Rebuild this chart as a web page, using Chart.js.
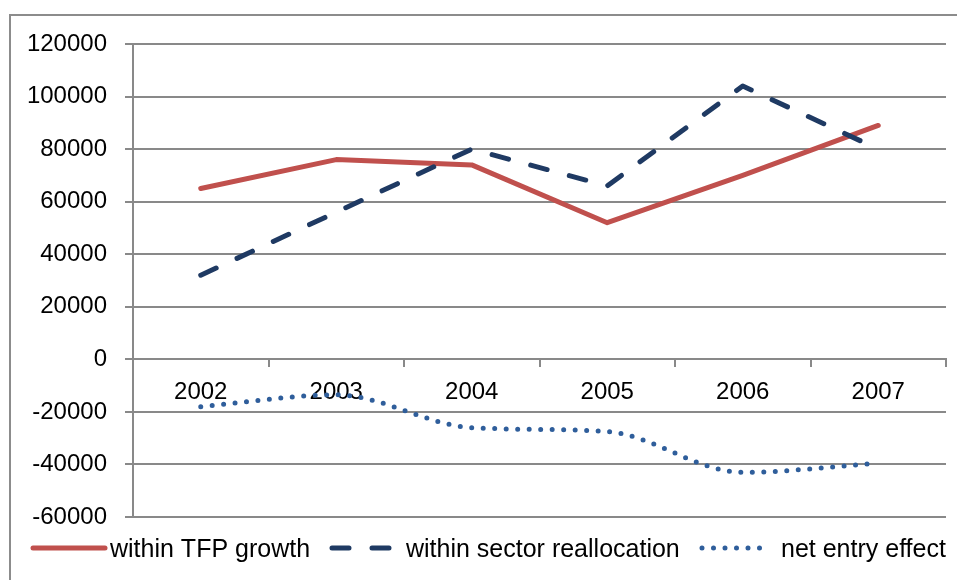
<!DOCTYPE html>
<html><head><meta charset="utf-8">
<script src="https://cdn.jsdelivr.net/npm/chart.js@4.4.1/dist/chart.umd.min.js"></script>
<style>
html,body{margin:0;padding:0;background:#fff;overflow:hidden}
#wrap{position:relative;width:957px;height:580px;overflow:hidden}
#frame{position:absolute;left:9px;top:14px;width:980px;height:620px;border-left:2px solid #8c8c8c;border-top:2px solid #8c8c8c;pointer-events:none}
canvas{position:absolute;left:0;top:0}
</style></head><body>
<div id="wrap"><canvas id="c" width="957" height="580"></canvas><div id="frame"></div></div>
<script>
// ---- data ----
const years = ['2002', '2003', '2004', '2005', '2006', '2007'];
const seriesNames = ['within TFP growth', 'within sector reallocation', 'net entry effect'];
const tfpGrowth = [65000, 76000, 74000, 52000, 70000, 89000];
const sectorRealloc = [32000, 56000, 80000, 66000, 104000, 80000];
const netEntry = [-18000, -13500, -26000, -27500, -43000, -39500];
const yMin = -60000, yMax = 120000, yStep = 20000;

const FAMILY = '"Liberation Sans", Arial, sans-serif';
const FSIZE = 24;
const LSIZE = 25;

const GRID = '#898989';
const colors = ['#C0504D', '#1F3A63', '#2F5E9B'];

const legendPlugin = {
  id: 'refLegend',
  afterDraw(chart){
    const ctx = chart.ctx;
    const ds = chart.data.datasets;
    const ly = 548;
    const items = [
      {x0: 33, x1: 105, tx: 110},
      {x0: 332, x1: 390, tx: 406},
      {x0: 702, x1: 762, tx: 781}
    ];
    ctx.save();
    items.forEach((it, i) => {
      const d = ds[i];
      ctx.beginPath();
      ctx.strokeStyle = d.borderColor;
      ctx.lineWidth = d.borderWidth;
      ctx.lineCap = 'round';
      ctx.setLineDash(d.borderDash || []);
      ctx.moveTo(it.x0, ly);
      ctx.lineTo(it.x1, ly);
      ctx.stroke();
      ctx.setLineDash([]);
      ctx.fillStyle = '#000';
      ctx.font = LSIZE + 'px ' + FAMILY;
      ctx.textBaseline = 'alphabetic';
      ctx.textAlign = 'left';
      ctx.fillText(d.label, it.tx, 557);
    });
    ctx.restore();
  }
};

new Chart(document.getElementById('c'), {
  type: 'line',
  data: {
    labels: years,
    datasets: [
      {label: seriesNames[0], data: tfpGrowth, borderColor: colors[0], backgroundColor: colors[0],
       borderWidth: 5, pointRadius: 0, tension: 0, borderCapStyle: 'round', borderJoinStyle: 'round', order: 3},
      {label: seriesNames[1], data: sectorRealloc, borderColor: colors[1], backgroundColor: colors[1],
       borderWidth: 5, borderDash: [17, 23], pointRadius: 0, tension: 0, borderCapStyle: 'round', borderJoinStyle: 'round', order: 2},
      {label: seriesNames[2], data: netEntry, borderColor: colors[2], backgroundColor: colors[2],
       borderWidth: 5, borderDash: [0, 11.5], pointRadius: 0, cubicInterpolationMode: 'monotone', borderCapStyle: 'round', order: 1}
    ]
  },
  options: {
    responsive: false,
    animation: false,
    devicePixelRatio: 1,
    layout: {padding: {left: 0, right: 11, top: 44, bottom: 63}},
    plugins: {legend: {display: false}, tooltip: {enabled: false}},
    scales: {
      x: {
        type: 'category',
        position: {y: 0},
        offset: true,
        grid: {offset: true, drawOnChartArea: false, drawTicks: true, tickLength: 7, color: GRID, lineWidth: 2},
        border: {display: true, color: GRID, width: 2},
        ticks: {font: {family: FAMILY, size: FSIZE}, color: '#000', padding: 12, maxRotation: 0, autoSkip: false}
      },
      y: {
        min: yMin, max: yMax,
        afterFit(s){ s.width = 133; },
        ticks: {stepSize: yStep, font: {family: FAMILY, size: FSIZE}, color: '#000', padding: 18,
                callback: (v) => String(v)},
        grid: {color: GRID, lineWidth: 2, tickLength: 8, drawTicks: true},
        border: {display: true, color: GRID, width: 2}
      }
    }
  },
  plugins: [legendPlugin]
});
</script>
</body></html>
